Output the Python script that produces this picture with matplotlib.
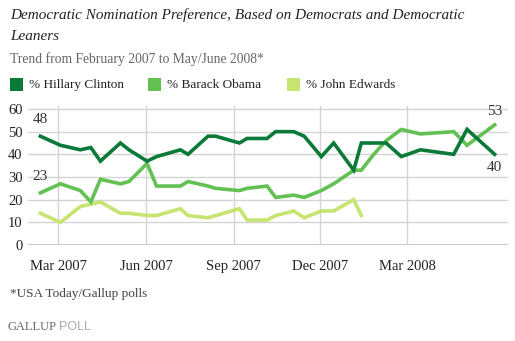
import matplotlib
matplotlib.use("Agg")
import matplotlib.pyplot as plt
import numpy as np
import pandas as pd

dates = ["2007-02-10", "2007-03-03", "2007-03-24", "2007-04-04", "2007-04-14",
         "2007-05-05", "2007-05-14", "2007-06-02", "2007-06-12", "2007-07-07",
         "2007-07-15", "2007-08-05", "2007-08-13", "2007-09-07", "2007-09-15",
         "2007-10-06", "2007-10-15", "2007-11-03", "2007-11-14", "2007-12-02",
         "2007-12-15", "2008-01-05", "2008-01-13", "2008-01-26", "2008-02-08",
         "2008-02-24", "2008-03-15", "2008-04-19", "2008-05-03", "2008-06-01"]
clinton = [48, 44, 42, 43, 37, 45, 42, 37, 39, 42, 40, 48, 48, 45, 47, 47, 50, 50, 48, 39,
           45, 33, 45, 45, 45, 39, 42, 40, 51, 40]
obama = [23, 27, 24, 19, 29, 27, 28, 36, 26, 26, 28, 26, 25, 24, 25, 26, 21, 22, 21, 24,
         27, 33, 33, 40, 46, 51, 49, 50, 44, 53]
edwards = [14, 10, 17, 18, 19, 14, 14, 13, 13, 16, 13, 12, 13, 16, 11, 11, 13, 15, 12, 15,
           15, 20, 13, np.nan, np.nan, np.nan, np.nan, np.nan, np.nan, np.nan]
series_names = ["% Hillary Clinton", "% Barack Obama", "% John Edwards"]
tick_dates = ["2007-03-01", "2007-06-01", "2007-09-01", "2007-12-01", "2008-03-01"]
tick_labels = ["Mar 2007", "Jun 2007", "Sep 2007", "Dec 2007", "Mar 2008"]
y_ticks = [0, 10, 20, 30, 40, 50, 60]

colors = ["#0B7A38", "#62C152", "#C5E470"]
serif = ["Liberation Serif", "DejaVu Serif"]
plt.rcParams["font.family"] = serif

W, H = 515, 341
fig = plt.figure(figsize=(W / 100, H / 100), dpi=100)
fig.patch.set_facecolor("white")

x = pd.to_datetime(dates)
ax = fig.add_axes([28 / W, 96 / H, 480 / W, 139.4 / H])
ax.set_facecolor("white")

ax.plot(x, edwards, color=colors[2], lw=2.6, solid_joinstyle="miter", zorder=3)
ax.plot(x, obama, color=colors[1], lw=2.6, solid_joinstyle="miter", zorder=4)
ax.plot(x, clinton, color=colors[0], lw=2.6, solid_joinstyle="miter", zorder=5)

ax.set_xlim(pd.Timestamp("2007-01-28"), pd.Timestamp("2008-06-15"))
ax.set_ylim(0, 61.5)
ax.set_yticks(y_ticks)
ax.set_xticks(pd.to_datetime(tick_dates))
ax.set_xticklabels(tick_labels)
ax.tick_params(axis="both", length=0, labelsize=10.5, colors="#222222")
ax.tick_params(axis="y", pad=4)
ax.tick_params(axis="x", pad=11)

for yv in y_ticks[1:]:
    ax.axhline(yv, color="#d4d4d4", lw=1.0, zorder=1)
for td in pd.to_datetime(tick_dates):
    ax.axvline(td, color="#d4d4d4", lw=1.0, zorder=1)
ax.axhline(0, color="#c8c8c8", lw=2.2, zorder=2)
for s in ax.spines.values():
    s.set_visible(False)

# end labels
ax.annotate(str(clinton[0]), (x[0], clinton[0]), xytext=(0, 7), textcoords="offset points",
            ha="center", va="bottom", fontsize=11, color="#333333")
ax.annotate(str(obama[0]), (x[0], obama[0]), xytext=(0, 7), textcoords="offset points",
            ha="center", va="bottom", fontsize=11, color="#333333")
ax.annotate(str(obama[-1]), (x[-1], obama[-1]), xytext=(0, 5), textcoords="offset points",
            ha="center", va="bottom", fontsize=11, color="#333333")
ax.annotate(str(clinton[-1]), (x[-1], clinton[-1]), xytext=(0, -5), textcoords="offset points",
            ha="center", va="top", fontsize=11, color="#333333")

# titles
fig.text(10 / W, 1 - 15 / H, "Democratic Nomination Preference, Based on Democrats and Democratic",
         fontsize=11, style="italic", color="#222222", va="center", ha="left")
fig.text(10 / W, 1 - 37 / H, "Leaners", fontsize=11, style="italic", color="#222222",
         va="center", ha="left")
fig.text(10 / W, 1 - 59 / H, "Trend from February 2007 to May/June 2008*", fontsize=9.8,
         color="#666666", va="center", ha="left")

# legend
leg_x = [10, 148, 287]
for lx, name, c in zip(leg_x, series_names, colors):
    fig.patches.append(plt.Rectangle((lx / W, 1 - 91 / H), 13 / W, 13 / H, transform=fig.transFigure,
                                     facecolor=c, edgecolor="none"))
    fig.text((lx + 19) / W, 1 - 85 / H, name, fontsize=9.5, color="#222222", va="center", ha="left")

fig.text(10 / W, 1 - 294 / H, "*USA Today/Gallup polls", fontsize=9.5, color="#444444",
         va="center", ha="left")
t1 = fig.text(7 / W, 1 - 327 / H, "GALLUP", fontsize=9, color="#666666", va="center", ha="left")
ax.annotate("POLL", xy=(1, 0.5), xycoords=t1, xytext=(2, 0), textcoords="offset points",
            fontsize=9, color="#aaaaaa", va="center", ha="left",
            family=["Liberation Sans", "DejaVu Sans"], annotation_clip=False)

fig.savefig("out.png", dpi=100, facecolor="white")
